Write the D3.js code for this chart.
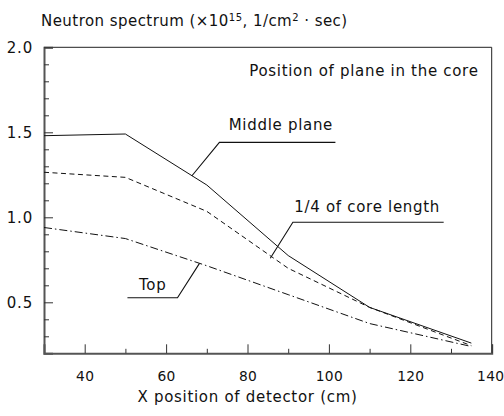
<!DOCTYPE html>
<html>
<head>
<meta charset="utf-8">
<script src="https://cdn.jsdelivr.net/npm/d3@7"></script>
<style>
  html, body { margin: 0; padding: 0; background: #fff; }
  svg text { font-family: "DejaVu Sans", sans-serif; fill: #111; }
</style>
</head>
<body>
<svg id="chart" width="504" height="416"></svg>
<script>
// Detector positions along X (cm)
const positions = [30, 50, 70, 90, 110, 135];

// Neutron spectrum (x10^15 1/cm^2.sec) for each plane of the core
const middlePlane = [1.48, 1.49, 1.19, 0.775, 0.47, 0.26];
const quarterLength = [1.265, 1.235, 1.035, 0.70, 0.47, 0.245];
const topPlane = [0.94, 0.875, 0.715, 0.545, 0.375, 0.24];

const seriesNames = ["Middle plane", "1/4 of core length", "Top"];

// Axis ticks
const xMajorTicks = [40, 60, 80, 100, 120, 140];
const xMinorTicks = [50, 70, 90, 110, 130];
const yMajorTicks = [0.5, 1.0, 1.5, 2.0];
const yMinorTicks = [0.3, 0.4, 0.6, 0.7, 0.8, 0.9, 1.1, 1.2, 1.3, 1.4, 1.6, 1.7, 1.8, 1.9];

// Leader lines for the curve labels, in data units: [pointOnCurve, elbow, end], label centre
const leaders = [
  { name: seriesNames[0], path: [[66.3, 1.243], [73.1, 1.441], [101.6, 1.441]], label: [88.2, 1.543] },
  { name: seriesNames[1], path: [[85.6, 0.759], [91.15, 0.971], [128.2, 0.971]], label: [109.4, 1.062] },
  { name: seriesNames[2], path: [[68.2, 0.729], [62.8, 0.527], [50.5, 0.527]], label: [56.7, 0.606] }
];

const svg = d3.select("#chart");
const margin = { left: 44, right: 12.3, top: 47.3, bottom: 62.7 };
const W = 504, H = 416;

const x = d3.scaleLinear().domain([30, 140]).range([margin.left, W - margin.right]);
const y = d3.scaleLinear().domain([0.2, 2.0]).range([H - margin.bottom, margin.top]);

const x0 = x.range()[0], x1 = x.range()[1];
const y0 = y.range()[0], y1 = y.range()[1];

const labelFont = { size: 15, spacing: 0.7 };

// Frame: top and right edges (thin)
svg.append("path")
  .attr("d", `M${x0},${y1}H${x1}V${y0}`)
  .attr("fill", "none").attr("stroke", "#222").attr("stroke-width", 1);

// X axis (ticks pointing inward)
const gx = svg.append("g").attr("transform", `translate(0,${y0})`);
gx.call(d3.axisBottom(x).tickValues(xMajorTicks).tickSize(-9).tickPadding(18).tickFormat(d3.format("d")));
const gxm = svg.append("g").attr("transform", `translate(0,${y0})`);
gxm.call(d3.axisBottom(x).tickValues(xMinorTicks).tickSize(-4.5).tickFormat(""));
gxm.select(".domain").remove();

// Y axis (ticks pointing inward)
const gy = svg.append("g").attr("transform", `translate(${x0},0)`);
gy.call(d3.axisLeft(y).tickValues(yMajorTicks).tickSize(-9).tickPadding(11).tickFormat(d3.format(".1f")));
const gym = svg.append("g").attr("transform", `translate(${x0},0)`);
gym.call(d3.axisLeft(y).tickValues(yMinorTicks).tickSize(-5).tickFormat(""));
gym.select(".domain").remove();

svg.selectAll("g").attr("font-family", null).attr("font-size", null);
svg.selectAll(".domain").attr("stroke", "#555").attr("stroke-width", 2);
svg.selectAll(".tick line").attr("stroke", "#333").attr("stroke-width", 1);
gy.selectAll(".tick text")
  .attr("font-size", 15).attr("letter-spacing", 0.8).attr("fill", "#111").attr("dy", "0.35em");
gx.selectAll(".tick text")
  .attr("font-size", 13.8).attr("letter-spacing", 0.3).attr("fill", "#111")
  .attr("dy", "0.35em").attr("y", 23);
// keep the last label inside the page edge
gx.selectAll(".tick text").filter(d => d === xMajorTicks[xMajorTicks.length - 1]).attr("dx", -1.5);

// Curves
const line = d3.line().x((d, i) => x(positions[i])).y(d => y(d));
const curves = [
  { values: middlePlane, dash: null },
  { values: quarterLength, dash: "5,3.5" },
  { values: topPlane, dash: "8,3,1.5,3" }
];
svg.append("g").selectAll("path").data(curves).join("path")
  .attr("d", d => line(d.values))
  .attr("fill", "none")
  .attr("stroke", "#111")
  .attr("stroke-width", 1)
  .attr("stroke-dasharray", d => d.dash);

// Leader lines and their labels
const lg = svg.append("g");
lg.selectAll("path").data(leaders).join("path")
  .attr("d", d => d3.line().x(p => x(p[0])).y(p => y(p[1]))(d.path))
  .attr("fill", "none").attr("stroke", "#111").attr("stroke-width", 1.1);
lg.selectAll("text").data(leaders).join("text")
  .attr("x", d => x(d.label[0])).attr("y", d => y(d.label[1]))
  .attr("text-anchor", "middle").attr("dy", "0.35em")
  .attr("font-size", labelFont.size).attr("letter-spacing", labelFont.spacing)
  .text(d => d.name);

// Caption inside the frame
svg.append("text")
  .attr("x", x(108.6)).attr("y", y(1.86)).attr("dy", "0.35em")
  .attr("text-anchor", "middle")
  .attr("font-size", labelFont.size).attr("letter-spacing", labelFont.spacing)
  .text("Position of plane in the core");

// Axis titles
svg.append("text")
  .attr("x", x(80.0)).attr("y", 397).attr("dy", "0.35em")
  .attr("text-anchor", "middle")
  .attr("font-size", labelFont.size).attr("letter-spacing", labelFont.spacing)
  .text("X position of detector (cm)");

const title = svg.append("text")
  .attr("x", 41).attr("y", 26).attr("text-anchor", "start")
  .attr("font-size", labelFont.size).attr("letter-spacing", 0.45);
title.append("tspan").text("Neutron spectrum (\u00d710");
title.append("tspan").attr("font-size", 10).attr("dy", -5).text("15");
title.append("tspan").attr("dy", 5).text(", 1/cm");
title.append("tspan").attr("font-size", 10).attr("dy", -5).text("2");
title.append("tspan").attr("dy", 5).text(" \u00b7 sec)");
</script>
</body>
</html>
